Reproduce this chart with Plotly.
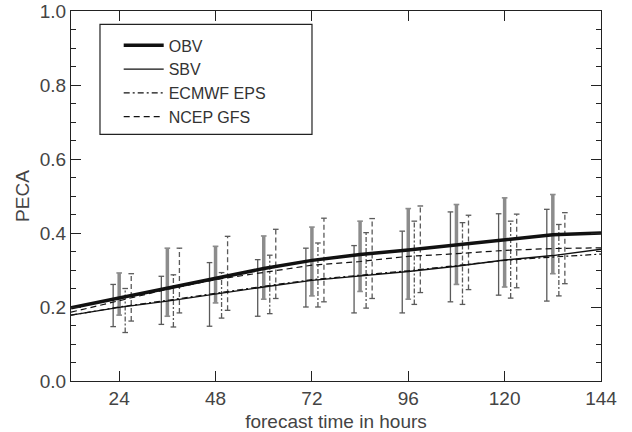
import plotly.graph_objects as go

# ---------------- data ----------------
hours = [12, 24, 36, 48, 60, 72, 84, 96, 108, 120, 132, 144]
obv   = [0.198, 0.225, 0.252, 0.278, 0.304, 0.326, 0.342, 0.354, 0.367, 0.380, 0.395, 0.400]
sbv   = [0.178, 0.199, 0.216, 0.236, 0.254, 0.272, 0.283, 0.296, 0.310, 0.327, 0.339, 0.356]
ecmwf = [0.178, 0.200, 0.218, 0.238, 0.256, 0.274, 0.285, 0.298, 0.312, 0.326, 0.335, 0.343]
ncep  = [0.186, 0.218, 0.248, 0.274, 0.293, 0.313, 0.323, 0.337, 0.344, 0.353, 0.358, 0.360]

bar_hours = [24, 36, 48, 60, 72, 84, 96, 108, 120, 132]
sbv_lo   = [0.147, 0.153, 0.148, 0.175, 0.200, 0.184, 0.184, 0.214, 0.232, 0.216]
sbv_hi   = [0.261, 0.283, 0.320, 0.328, 0.359, 0.366, 0.405, 0.457, 0.452, 0.464]
obv_lo   = [0.178, 0.175, 0.211, 0.221, 0.230, 0.242, 0.221, 0.261, 0.254, 0.290]
obv_hi   = [0.292, 0.359, 0.364, 0.392, 0.416, 0.432, 0.466, 0.477, 0.495, 0.504]
ecmwf_lo = [0.131, 0.146, 0.170, 0.182, 0.200, 0.197, 0.207, 0.207, 0.224, 0.230]
ecmwf_hi = [0.250, 0.287, 0.293, 0.340, 0.373, 0.401, 0.432, 0.428, 0.432, 0.423]
ncep_lo  = [0.162, 0.184, 0.191, 0.223, 0.214, 0.223, 0.239, 0.247, 0.252, 0.263]
ncep_hi  = [0.290, 0.359, 0.391, 0.410, 0.440, 0.439, 0.473, 0.448, 0.451, 0.455]

x_ticks = [24, 48, 72, 96, 120, 144]
y_ticks = [0.0, 0.2, 0.4, 0.6, 0.8, 1.0]
y_ticklabels = ["0.0", "0.2", "0.4", "0.6", "0.8", "1.0"]

# ---------------- helpers ----------------
CAP = 0.7  # cap half-width in hours


def stems(xs, lo, hi, off):
    X, Y = [], []
    for x, a, b in zip(xs, lo, hi):
        X += [x + off, x + off, None]
        Y += [a, b, None]
    return X, Y


def caps(xs, lo, hi, off):
    X, Y = [], []
    for x, a, b in zip(xs, lo, hi):
        for v in (a, b):
            X += [x + off - CAP, x + off + CAP, None]
            Y += [v, v, None]
    return X, Y


FONT = "Liberation Sans, Arial, Helvetica, sans-serif"
fig = go.Figure()

bar_specs = [
    (sbv_lo, sbv_hi, -1.5, "#5a5a5a", 1.3, "solid", 1.3),
    (obv_lo, obv_hi, 0.0, "#8c8c8c", 3.5, "solid", 1.6),
    (ecmwf_lo, ecmwf_hi, 1.5, "#5a5a5a", 1.3, "5px,2px,2px,2px", 1.3),
    (ncep_lo, ncep_hi, 3.0, "#5a5a5a", 1.3, "5px,3px", 1.3),
]
for lo, hi, off, col, w, dash, cw in bar_specs:
    X, Y = stems(bar_hours, lo, hi, off)
    fig.add_trace(go.Scatter(x=X, y=Y, mode="lines", showlegend=False, hoverinfo="skip",
                             line=dict(color=col, width=w, dash=dash)))
    X, Y = caps(bar_hours, lo, hi, off)
    fig.add_trace(go.Scatter(x=X, y=Y, mode="lines", showlegend=False, hoverinfo="skip",
                             line=dict(color=col, width=cw)))

line_specs = [
    ("OBV", obv, 3.5, "solid"),
    ("SBV", sbv, 1.4, "solid"),
    ("ECMWF EPS", ecmwf, 1.2, "6px,3px,2px,3px"),
    ("NCEP GFS", ncep, 1.2, "6px,4px"),
]
for name, ys, w, dash in line_specs:
    fig.add_trace(go.Scatter(x=hours, y=ys, mode="lines", name=name,
                             line=dict(color="#111111", width=w, dash=dash)))

axis_common = dict(
    showgrid=False, zeroline=False, showline=True, linecolor="#222222", linewidth=1.2,
    mirror="allticks", ticks="inside", tickcolor="#222222", ticklen=10, tickwidth=1,
    tickfont=dict(family=FONT, size=19, color="#444444"), automargin=False,
)

fig.update_xaxes(range=[12, 144], tickvals=x_ticks,
                 title=dict(text="forecast time in hours", font=dict(family=FONT, size=19, color="#444444"), standoff=14),
                 **axis_common)
fig.update_yaxes(range=[0, 1], tickvals=y_ticks, ticktext=y_ticklabels,
                 minor=dict(dtick=0.05, ticks="inside", ticklen=5, tickcolor="#222222", showgrid=False),
                 title=dict(text="PECA", font=dict(family=FONT, size=19, color="#444444"), standoff=5),
                 **axis_common)

fig.add_shape(type="rect", xref="paper", yref="paper",
              x0=0.0547, x1=0.4547, y0=0.6668, y1=0.964,
              line=dict(color="#222222", width=1.2), fillcolor="rgba(0,0,0,0)")

fig.update_layout(
    width=632, height=432,
    margin=dict(l=71, r=31, t=11, b=51, autoexpand=False),
    paper_bgcolor="white", plot_bgcolor="white",
    showlegend=True,
    legend=dict(x=0.09, y=0.953, xanchor="left", yanchor="top",
                bgcolor="rgba(0,0,0,0)", borderwidth=0,
                font=dict(family=FONT, size=16, color="#333333"),
                tracegroupgap=0, itemwidth=40),
    font=dict(family=FONT),
)

fig.write_html("out.html")
